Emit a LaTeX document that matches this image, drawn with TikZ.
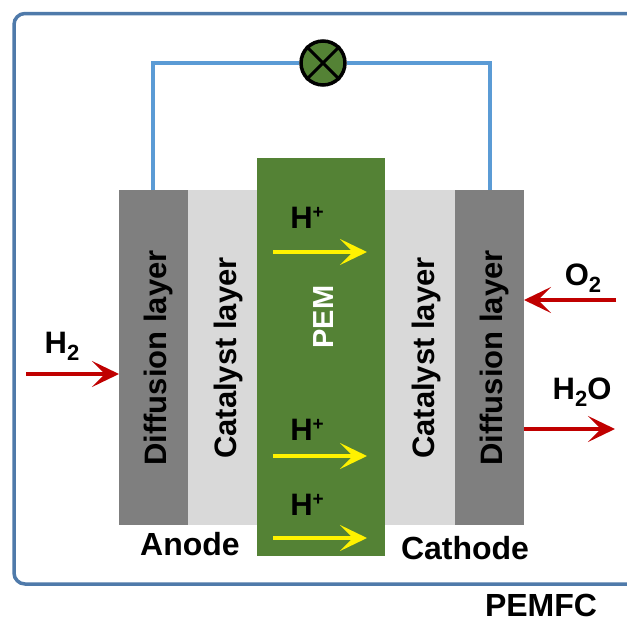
\documentclass[tikz,border=0pt]{standalone}
\usepackage{fontspec}
\setmainfont{Liberation Sans}
\usetikzlibrary{arrows.meta,calc}
\definecolor{frameblue}{RGB}{79,122,170}
\definecolor{wireblue}{RGB}{91,155,213}
\definecolor{pemgreen}{RGB}{84,130,53}
\definecolor{diffgray}{RGB}{127,127,127}
\definecolor{catgray}{RGB}{217,217,217}
\definecolor{arrred}{RGB}{192,0,0}
\newcommand{\subt}[1]{\raisebox{-7pt}{\fontsize{22}{24}\selectfont #1}}
\newcommand{\supt}[1]{\raisebox{10pt}{\fontsize{19}{24}\selectfont #1}}
\tikzset{
  layer/.style={anchor=north west,inner sep=0pt,outer sep=0pt,minimum width=#1},
  lbl/.style={font=\bfseries\fontsize{32}{34}\selectfont,inner sep=0pt,text=black},
  vlbl/.style={lbl,rotate=90,font=\bfseries\fontsize{31}{33}\selectfont},
  gas/.style={font=\bfseries\fontsize{31}{33}\selectfont,inner sep=0pt},
  red arrow/.style={draw=arrred,line width=4pt,-{Stealth[length=27pt,width=26pt,inset=13pt]}},
  yel arrow/.style={draw=yellow,line width=4pt,-{Stealth[length=27pt,width=26pt,inset=13pt]}},
  wire/.style={draw=wireblue,line width=3.5pt},
}
\begin{document}
\begin{tikzpicture}[x=1pt,y=-1pt]
\useasboundingbox (0,0) rectangle (627,621);
\fill[white] (0,0) rectangle (627,621);
% frame
\draw[frameblue,line width=3.5pt,rounded corners=11pt] (627,13.5) -- (14,13.5) -- (14,584) -- (627,584);
% layers
\node[layer=69pt,minimum height=335pt,fill=diffgray] (dl) at (119,190) {};
\node[layer=69pt,minimum height=335pt,fill=catgray] (cl) at (188,190) {};
\node[layer=128pt,minimum height=398pt,fill=pemgreen] (pem) at (257,158) {};
\node[layer=70pt,minimum height=335pt,fill=catgray] (cr) at (385,190) {};
\node[layer=69pt,minimum height=335pt,fill=diffgray] (dr) at (455,190) {};
% lamp
\node[circle,draw=black,line width=3.5pt,fill=pemgreen,minimum size=44pt,inner sep=0pt] (lamp) at (323,63) {};
\draw[black,line width=3pt] (lamp.north west) -- (lamp.south east) (lamp.north east) -- (lamp.south west);
% wires
\coordinate (wl) at (153,190);
\coordinate (wr) at (490,190);
\draw[wire] (wl) |- (lamp.west);
\draw[wire] (wr) |- (lamp.east);
% layer labels
\node[vlbl] (t1) at (158,358) {Diffusion layer};
\node[vlbl] (t2) at (228,358) {Catalyst layer};
\node[vlbl] (t3) at (426,358) {Catalyst layer};
\node[vlbl] (t4) at (494,358) {Diffusion layer};
\node[lbl,rotate=90,text=white,font=\bfseries\fontsize{29}{31}\selectfont] (t5) at (324,317) {PEM};
% protons
\node[gas] (h1) at (307,218) {H\supt{+}};
\node[gas] (h2) at (307,430) {H\supt{+}};
\node[gas] (h3) at (307,505) {H\supt{+}};
\coordinate (a1) at (273,252);
\coordinate (a1e) at (367,252);
\coordinate (a2) at (273,456);
\coordinate (a2e) at (367,456);
\coordinate (a3) at (273,538);
\coordinate (a3e) at (367,538);
\draw[yel arrow] (a1) -- (a1e);
\draw[yel arrow] (a2) -- (a2e);
\draw[yel arrow] (a3) -- (a3e);
% gases
\coordinate (gh) at (26,374);
\coordinate (go) at (616,300);
\coordinate (gw) at (615,429);
\draw[red arrow] (gh) -- (gh -| dl.west);
\draw[red arrow] (go) -- (go -| dr.east);
\draw[red arrow] (gw -| dr.east) -- (gw);
\node[gas] (h2g) at (62,346) {H\subt{2}};
\node[gas] (o2g) at (583,278) {O\subt{2}};
\node[gas] (wg) at (582,392) {H\subt{2}O};
% captions
\node[lbl] (an) at (190,544) {Anode};
\node[lbl] (ca) at (465,548) {Cathode};
\node[lbl] (pf) at (541,605) {PEMFC};
\end{tikzpicture}
\end{document}
